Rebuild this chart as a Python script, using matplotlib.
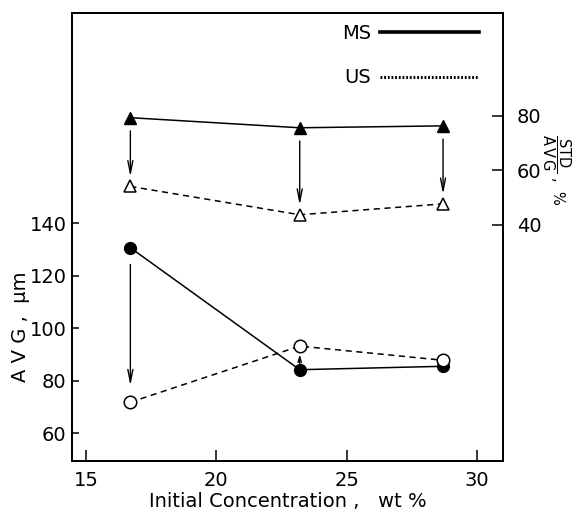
import matplotlib
matplotlib.use("Agg")
import matplotlib.pyplot as plt
from matplotlib.lines import Line2D

plt.rcParams['font.family'] = ['DejaVu Sans']
plt.rcParams['mathtext.fontset'] = 'dejavusans'

# data
conc = [16.7, 23.2, 28.7]               # initial concentration, wt %
avg_ms = [130.7, 84.2, 85.5]            # AVG, um (filled circles)
avg_us = [71.8, 93.2, 87.8]             # AVG, um (open circles)
ratio_ms = [79.3, 75.6, 76.3]           # STD/AVG, % (filled triangles)
ratio_us = [54.1, 43.7, 47.7]           # STD/AVG, % (open triangles)

fig = plt.figure(figsize=(5.82, 5.13), dpi=100)
ax = fig.add_axes([0.1237, 0.1014, 0.7405, 0.8733])
ax2 = ax.twinx()

# AVG curves
ax.plot(conc, avg_ms, color='k', lw=1.1, marker='o', ms=8.5, mfc='k', mec='k', zorder=3)
ax.plot(conc, avg_us, color='k', lw=1.1, ls=(0, (4, 3)), marker='o', ms=9, mfc='white',
        mec='k', mew=1.1, zorder=3)

# STD/AVG curves
ax2.plot(conc, ratio_ms, color='k', lw=1.1, marker='^', ms=8.5, mfc='k', mec='k', zorder=3)
ax2.plot(conc, ratio_us, color='k', lw=1.1, ls=(0, (4, 3)), marker='^', ms=9, mfc='white',
         mec='k', mew=1.1, zorder=3)

# arrows MS -> US
arr = dict(arrowstyle='->,head_length=0.9,head_width=0.18', color='k', lw=1.0,
           mutation_scale=10)
for i in range(3):
    ax2.annotate('', xy=(conc[i], ratio_us[i]), xytext=(conc[i], ratio_ms[i]),
                 arrowprops=dict(arr, shrinkA=9.5, shrinkB=7))
ax.annotate('', xy=(conc[0], avg_us[0]), xytext=(conc[0], avg_ms[0]),
            arrowprops=dict(arr, shrinkA=12, shrinkB=12))
ax.annotate('', xy=(conc[1], avg_us[1]), xytext=(conc[1], avg_ms[1]),
            arrowprops=dict(arrowstyle='->,head_length=0.4,head_width=0.12', color='k',
                            lw=1.0, mutation_scale=10, shrinkA=4, shrinkB=6))

ax.set_xlim(14.46, 31.0)
ax.set_ylim(49.4, 220.2)
ax2.set_ylim(-46.6, 117.7)

ax.set_xticks([15, 20, 25, 30])
ax.set_yticks([60, 80, 100, 120, 140])
ax2.set_yticks([40, 60, 80])

ax.tick_params(axis='x', direction='in', length=8, width=1.1, labelsize=14, pad=7)
ax.tick_params(axis='y', direction='in', length=5, width=1.1, labelsize=14, pad=4)
ax2.tick_params(axis='y', direction='in', length=8, width=1.1, labelsize=14, pad=10)

for a in (ax, ax2):
    for s in a.spines.values():
        s.set_linewidth(1.4)

ax.set_xlabel('Initial Concentration ,   wt %', fontsize=14, labelpad=2)
ax.set_ylabel('A V G ,  μm', fontsize=14)
ax.yaxis.set_label_coords(-0.097, 0.30)
ax2.set_ylabel(r'$\dfrac{\mathrm{STD}}{\mathrm{A\,V\,G}}$ ,  %', fontsize=10.5,
               rotation=270, ha='center', va='center', rotation_mode='anchor')
ax2.yaxis.set_label_coords(1.123, 0.65)

handles = [Line2D([], [], color='k', lw=2.6),
           Line2D([], [], color='k', lw=2.2, ls=(0, (0.6, 0.6)))]
ax.legend(handles=handles, labels=['MS', 'US'], markerfirst=False, frameon=False,
          loc='upper right', bbox_to_anchor=(0.945, 0.975), borderpad=0,
          borderaxespad=0, handlelength=5.1, handletextpad=0.45, labelspacing=1.3,
          fontsize=14)

fig.savefig('out.png', dpi=100)
